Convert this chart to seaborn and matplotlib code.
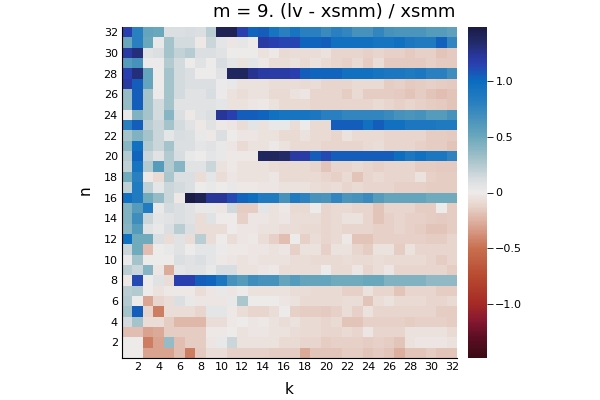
import numpy as np
import pandas as pd
import seaborn as sns
import matplotlib
matplotlib.use("Agg")
import matplotlib.pyplot as plt
from matplotlib.colors import LinearSegmentedColormap

sns.set_style("white")
plt.rcParams["text.color"] = "black"
plt.rcParams["xtick.color"] = "black"
plt.rcParams["ytick.color"] = "black"

k_values = list(range(1, 33))
n_values = list(range(1, 33))

# one list per n, values for k = 1..32
n32 = [1.15, 0.8, 0.53, 0.5, 0.1, 0.1, 0.12, 0.1, 0.22, 1.42, 1.42, 1.15, 1.02, 1.05, 0.92, 0.8,
       0.92, 0.8, 0.8, 0.72, 0.8, 0.76, 0.67, 0.67, 0.76, 0.67, 0.64, 0.64, 0.64, 0.6, 0.6, 0.55]
n31 = [0.5, 0.8, 0.5, 0.03, 0.3, 0.13, 0.13, -0.02, 0.17, 0.05, -0.03, 0.04, 0.0, 1.2, 1.15, 1.13,
       1.13, 1.02, 1.02, 1.05, 0.95, 0.95, 0.95, 0.95, 0.92, 0.92, 0.95, 0.88, 0.86, 0.86, 1.03, 0.76]
n30 = [1.2, 1.3, 0.08, 0.1, 0.3, 0.19, 0.24, 0.1, 0.1, 0.08, 0.0, 0.0, 0.0, -0.05, -0.02, -0.09,
       -0.07, -0.08, -0.08, -0.05, -0.11, -0.11, -0.11, -0.13, -0.11, -0.13, -0.13, -0.16, -0.13, -0.13, -0.18, -0.16]
n29 = [0.6, 0.67, 0.02, 0.02, 0.25, 0.13, 0.0, 0.07, 0.0, 0.12, 0.05, -0.05, 0.05, -0.02, -0.07, -0.07,
       -0.05, -0.09, -0.05, -0.09, -0.11, -0.13, -0.09, -0.14, -0.07, -0.16, -0.16, -0.16, -0.16, -0.13, -0.16, -0.16]
n28 = [1.15, 1.3, 0.53, 0.01, 0.3, 0.13, 0.1, 0.0, 0.01, 0.08, 1.38, 1.38, 1.25, 1.2, 1.18, 1.18,
       1.15, 1.05, 1.02, 1.02, 1.02, 0.95, 0.95, 0.95, 0.92, 0.88, 0.88, 0.86, 0.88, 0.8, 0.8, 0.7]
n27 = [1.2, 1.05, 0.53, 0.0, 0.3, 0.13, 0.1, 0.1, 0.1, 0.02, 0.03, -0.05, -0.05, -0.05, -0.07, -0.07,
       -0.07, -0.09, -0.07, -0.11, -0.11, -0.11, -0.09, -0.09, -0.09, -0.14, -0.13, -0.16, -0.14, -0.13, -0.14, -0.16]
n26 = [0.35, 1.05, 0.3, 0.02, 0.3, 0.13, 0.07, 0.07, 0.12, 0.02, -0.05, -0.07, -0.05, -0.05, -0.09, -0.09,
       -0.05, -0.03, -0.11, -0.11, -0.11, -0.14, -0.09, -0.14, -0.14, -0.14, -0.16, -0.18, -0.14, -0.18, -0.2, -0.18]
n25 = [0.35, 1.05, 0.3, 0.13, 0.3, 0.07, 0.07, 0.07, 0.07, 0.05, -0.05, -0.05, -0.03, -0.02, -0.05, -0.09,
       -0.09, -0.09, -0.11, -0.11, -0.11, -0.11, -0.11, -0.11, -0.09, -0.11, -0.13, -0.11, -0.13, -0.15, -0.16, -0.18]
n24 = [0.03, 0.42, 0.3, 0.13, 0.4, 0.1, -0.02, 0.07, 0.1, 1.23, 1.15, 1.05, 1.05, 1.02, 0.95, 0.92,
       0.92, 0.92, 0.88, 0.8, 0.8, 0.76, 0.76, 0.76, 0.76, 0.72, 0.67, 0.64, 0.67, 0.6, 0.6, 0.67]
n23 = [0.8, 1.05, 0.22, 0.17, 0.3, 0.13, 0.07, -0.02, 0.07, -0.02, -0.03, -0.07, 0.06, -0.05, 0.03, 0.03,
       -0.07, 0.0, -0.09, -0.09, 1.05, 1.05, 1.05, 0.95, 1.05, 0.95, 0.95, 0.88, 0.88, 0.88, 0.86, 0.86]
n22 = [0.3, 0.42, 0.3, 0.17, 0.05, 0.12, 0.1, 0.03, -0.02, 0.1, 0.0, -0.03, -0.03, -0.05, -0.05, -0.09,
       -0.09, -0.05, -0.09, -0.09, -0.11, -0.05, -0.09, -0.09, -0.09, -0.11, -0.11, -0.11, -0.11, -0.15, -0.15, -0.16]
n21 = [0.4, 0.95, 0.25, 0.17, 0.3, 0.1, 0.1, 0.05, 0.07, 0.03, -0.03, -0.09, -0.05, -0.05, -0.02, -0.05,
       -0.09, -0.09, -0.09, -0.11, -0.11, -0.11, -0.11, -0.09, -0.07, -0.11, -0.11, -0.11, -0.13, -0.15, -0.15, -0.18]
n20 = [0.25, 1.02, 0.17, 0.07, 0.25, 0.12, 0.03, 0.0, 0.05, 0.03, -0.02, -0.02, -0.02, 1.38, 1.38, 1.35,
       1.2, 1.18, 1.05, 1.12, 1.05, 1.05, 1.05, 1.05, 1.05, 1.05, 0.98, 0.88, 0.95, 0.88, 0.88, 0.78]
n19 = [0.2, 0.92, 0.25, 0.6, 0.25, 0.4, 0.08, 0.07, 0.17, -0.05, -0.02, -0.05, -0.05, -0.05, -0.07, -0.09,
       -0.09, -0.09, -0.11, -0.18, -0.11, -0.11, -0.09, -0.11, -0.13, -0.11, -0.11, -0.11, -0.15, -0.15, -0.16, -0.16]
n18 = [0.48, 0.8, -0.02, -0.09, 0.27, 0.1, 0.1, -0.07, 0.05, -0.07, -0.03, -0.05, -0.05, -0.05, -0.03, -0.09,
       -0.09, -0.09, -0.09, -0.11, -0.13, -0.09, -0.18, -0.11, -0.09, -0.11, -0.11, -0.11, -0.05, -0.13, -0.15, -0.15]
n17 = [0.2, 0.85, 0.2, 0.05, 0.17, 0.13, 0.1, 0.0, 0.03, 0.0, 0.03, -0.02, -0.02, -0.03, -0.03, -0.05,
       -0.05, -0.05, -0.07, -0.09, -0.07, -0.11, -0.09, -0.11, -0.11, -0.11, -0.13, -0.13, -0.13, -0.15, -0.15, -0.15]
n16 = [0.95, 0.85, 0.48, 0.35, 0.17, -0.02, 1.47, 1.42, 1.23, 1.23, 1.12, 1.02, 0.98, 0.86, 0.86, 0.67,
       0.86, 0.78, 0.67, 0.64, 0.76, 0.64, 0.67, 0.72, 0.6, 0.53, 0.53, 0.53, 0.53, 0.48, 0.48, 0.48]
n15 = [0.42, 0.6, 0.85, 0.03, 0.13, 0.1, 0.07, 0.03, 0.03, -0.03, 0.15, -0.14, -0.14, 0.05, -0.05, -0.02,
       -0.09, -0.09, 0.0, -0.11, -0.09, -0.09, -0.11, -0.11, -0.18, -0.11, -0.11, -0.11, -0.15, -0.15, 0.0, -0.15]
n14 = [0.42, 0.7, 0.17, 0.05, 0.07, 0.1, 0.07, -0.08, 0.07, -0.01, -0.01, -0.13, -0.03, -0.03, -0.05, -0.03,
       -0.07, -0.07, -0.07, -0.11, -0.09, -0.05, -0.05, -0.11, -0.18, -0.13, -0.11, -0.13, -0.13, -0.15, -0.16, -0.15]
n13 = [0.4, 0.6, 0.07, 0.03, 0.1, 0.22, 0.1, -0.08, -0.07, -0.07, -0.01, -0.03, -0.03, -0.05, -0.05, -0.07,
       -0.07, -0.09, -0.09, -0.11, -0.09, -0.11, -0.11, -0.11, -0.13, -0.13, -0.11, -0.13, -0.15, -0.18, -0.18, -0.15]
n12 = [0.95, 0.48, 0.48, 0.1, -0.08, 0.08, -0.08, 0.22, -0.07, 0.0, -0.08, -0.03, -0.02, -0.07, -0.13, -0.2,
       0.0, -0.13, -0.07, -0.11, -0.09, -0.02, -0.18, -0.18, -0.13, -0.13, -0.13, -0.13, -0.13, -0.15, -0.15, -0.11]
n11 = [0.17, 0.48, -0.2, 0.0, 0.03, 0.08, 0.0, 0.05, 0.05, 0.02, -0.02, -0.02, -0.03, -0.03, -0.05, -0.03,
       -0.13, -0.05, -0.05, -0.13, -0.05, -0.05, -0.11, -0.15, -0.05, -0.05, -0.15, -0.05, -0.11, -0.11, -0.11, -0.11]
n10 = [0.02, 0.3, 0.0, 0.0, 0.0, 0.1, 0.08, 0.1, 0.05, -0.02, -0.03, -0.05, -0.03, -0.05, -0.05, -0.05,
       -0.07, -0.07, -0.09, -0.09, -0.09, -0.07, -0.09, -0.09, -0.07, -0.09, -0.09, -0.09, -0.09, -0.11, -0.15, -0.11]
n9 = [0.22, 0.17, 0.4, -0.03, -0.27, 0.05, 0.07, 0.07, 0.03, 0.12, 0.12, -0.05, -0.05, -0.03, -0.02, -0.07,
      -0.07, -0.07, -0.07, 0.0, -0.09, -0.09, -0.03, -0.11, -0.07, -0.03, -0.11, -0.11, -0.11, -0.11, -0.11, -0.15]
n8 = [-0.02, 1.12, 0.0, 0.08, -0.08, 1.15, 1.15, 1.05, 1.02, 0.88, 0.67, 0.6, 0.7, 0.67, 0.67, 0.53,
      0.6, 0.53, 0.53, 0.53, 0.48, 0.48, 0.48, 0.5, 0.5, 0.42, 0.42, 0.42, 0.42, 0.36, 0.36, 0.36]
n7 = [0.22, 0.25, 0.0, -0.05, -0.02, -0.02, -0.02, -0.07, -0.03, 0.03, -0.03, 0.0, -0.05, -0.05, -0.05, -0.05,
      -0.07, -0.07, -0.09, -0.09, -0.09, -0.13, -0.13, -0.05, -0.11, -0.11, -0.18, -0.11, -0.11, -0.11, -0.15, -0.15]
n6 = [0.25, 0.01, -0.3, -0.11, -0.07, 0.1, 0.03, -0.03, -0.03, -0.03, 0.03, 0.27, 0.0, 0.0, 0.0, -0.03,
      -0.05, -0.09, -0.09, -0.09, -0.09, -0.07, -0.07, -0.18, -0.07, -0.05, -0.09, -0.09, -0.09, -0.11, -0.11, -0.09]
n5 = [0.3, 1.05, -0.11, -0.45, -0.07, -0.08, -0.08, -0.11, 0.05, 0.05, -0.02, -0.07, -0.11, -0.11, -0.07, 0.0,
      -0.13, -0.15, -0.15, -0.16, -0.13, -0.07, -0.13, -0.05, -0.11, -0.11, -0.11, -0.11, -0.11, -0.11, -0.15, -0.15]
n4 = [0.13, 0.3, -0.08, -0.08, -0.14, -0.23, -0.23, -0.23, -0.07, -0.07, -0.02, 0.0, -0.03, -0.02, -0.05, -0.07,
      -0.05, -0.09, -0.09, -0.11, -0.09, -0.18, -0.18, -0.13, -0.13, -0.13, -0.13, -0.15, -0.13, -0.13, -0.13, -0.15]
n3 = [-0.2, -0.2, -0.31, -0.28, -0.14, -0.14, -0.14, -0.14, -0.02, -0.02, 0.0, -0.05, -0.03, -0.03, -0.05, -0.05,
      -0.07, -0.09, -0.09, -0.11, -0.11, -0.09, -0.11, -0.03, -0.11, -0.11, -0.11, -0.05, -0.05, -0.05, -0.05, -0.09]
n2 = [0.0, 0.0, -0.45, -0.31, 0.35, -0.2, -0.14, -0.14, -0.03, 0.03, 0.17, -0.05, -0.05, -0.05, -0.05, -0.09,
      -0.09, -0.11, -0.11, -0.15, -0.13, -0.13, -0.13, -0.15, -0.13, -0.15, -0.18, -0.05, -0.03, -0.03, -0.03, -0.05]
n1 = [0.0, 0.0, -0.31, -0.31, -0.31, -0.2, -0.45, -0.16, -0.07, -0.07, -0.13, -0.13, -0.13, -0.13, -0.15, -0.15,
      -0.15, -0.28, -0.18, -0.18, -0.18, -0.15, -0.15, -0.18, -0.16, -0.18, -0.26, -0.18, -0.18, -0.15, -0.18, -0.18]

rows_top_down = [n32, n31, n30, n29, n28, n27, n26, n25, n24, n23, n22, n21, n20, n19, n18, n17,
                 n16, n15, n14, n13, n12, n11, n10, n9, n8, n7, n6, n5, n4, n3, n2, n1]
df = pd.DataFrame(rows_top_down, index=n_values[::-1], columns=k_values)

# reversed "balance"-like diverging map, sampled off the reference colorbar
lim = 1.48
anchors = [(-1.48, "#3a0b14"), (-1.3, "#5c0e24"), (-1.15, "#861830"), (-1.0, "#a52a26"),
           (-0.75, "#b84a30"), (-0.5, "#c87050"), (-0.3, "#daa592"), (-0.12, "#e7d4cc"),
           (0.0, "#eeebea"), (0.12, "#d8dde0"), (0.3, "#a4c2ca"), (0.5, "#6aa8bc"),
           (0.65, "#4a94bc"), (0.8, "#2a80c0"), (1.0, "#0a6cc0"), (1.15, "#2a40b0"),
           (1.25, "#283494"), (1.35, "#222a68"), (1.48, "#1a1c45")]
cmap = LinearSegmentedColormap.from_list(
    "balance_r", [((v + lim) / (2 * lim), c) for v, c in anchors])

fig = plt.figure(figsize=(6, 4), dpi=100)
ax = fig.add_axes([122 / 600, 42 / 400, 335 / 600, 331 / 400])
cax = fig.add_axes([468 / 600, 42 / 400, 19 / 600, 331 / 400])

sns.heatmap(df, ax=ax, cbar_ax=cax, cmap=cmap, vmin=-lim, vmax=lim,
            xticklabels=False, yticklabels=False)

even = list(range(2, 33, 2))
ax.set_xticks([k_values.index(k) + 0.5 for k in even])
ax.set_xticklabels([str(k) for k in even])
ax.set_yticks([list(df.index).index(n) + 0.5 for n in even])
ax.set_yticklabels([str(n) for n in even])
ax.tick_params(direction="in", length=3, width=0.6, labelsize=8, pad=3,
               bottom=True, left=True, colors="black")
plt.setp(ax.get_yticklabels(), rotation=0)
plt.setp(ax.get_xticklabels(), rotation=0)
ax.set_xlabel("")
ax.set_ylabel("")
for side in ["left", "bottom"]:
    ax.spines[side].set_visible(True)
    ax.spines[side].set_color("black")
    ax.spines[side].set_linewidth(0.8)

cb_ticks = [-1.0, -0.5, 0.0, 0.5, 1.0]
cax.set_yticks(cb_ticks)
cax.set_yticklabels(["\u22121.0", "\u22120.5", "0", "0.5", "1.0"])
cax.tick_params(direction="out", length=4, width=0.6, labelsize=8, pad=2, colors="black")
for sp in cax.spines.values():
    sp.set_visible(False)

fig.text(334 / 600, 1 - 12 / 400, "m = 9. (lv - xsmm) / xsmm", ha="center", va="center", fontsize=13)
fig.text(289.5 / 600, 1 - 390 / 400, "k", ha="center", va="center", fontsize=11)
fig.text(85 / 600, 1 - 190 / 400, "n", ha="center", va="center", fontsize=11, rotation=90)

fig.savefig("out.png", dpi=100)
